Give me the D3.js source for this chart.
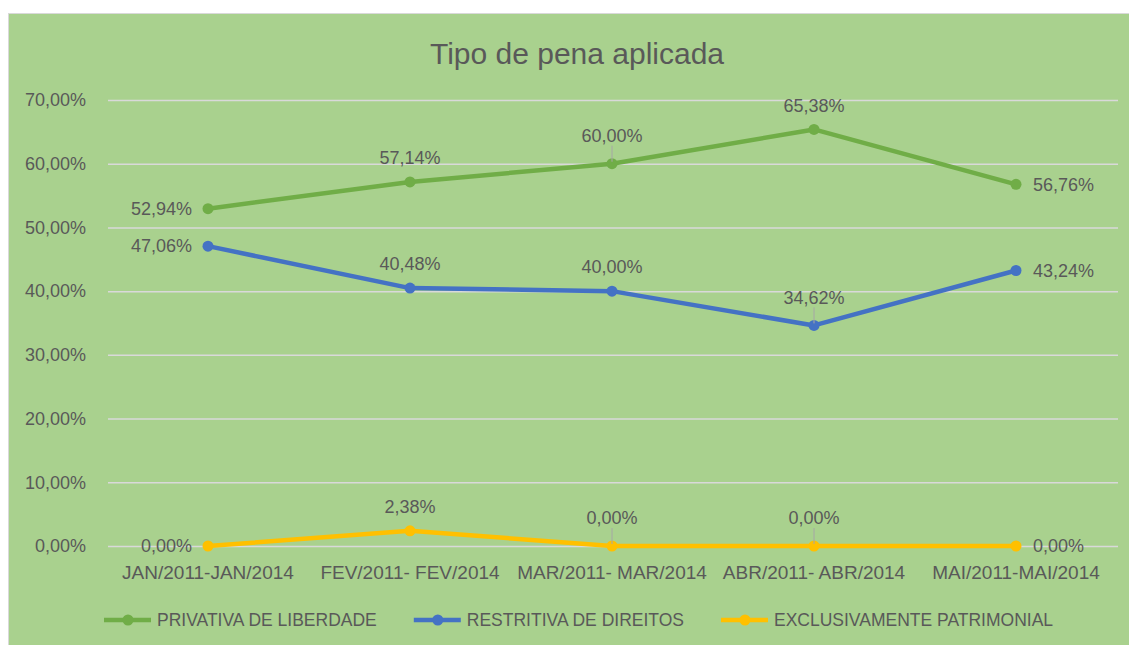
<!DOCTYPE html>
<html lang="pt">
<head>
<meta charset="utf-8">
<title>Tipo de pena aplicada</title>
<script src="https://cdnjs.cloudflare.com/ajax/libs/d3/7.8.5/d3.min.js"></script>
<style>
  body { margin: 0; background: #fff; }
  text { font-family: "Liberation Sans", Arial, sans-serif; fill: #595959; }
  .grid line { stroke: #d9d9d9; stroke-width: 1.5; }
  .grid .domain { display: none; }
</style>
</head>
<body>
<svg id="chart" width="1129" height="645"></svg>
<script>
// data
const categories = ["JAN/2011-JAN/2014", "FEV/2011- FEV/2014", "MAR/2011- MAR/2014", "ABR/2011- ABR/2014", "MAI/2011-MAI/2014"];
const seriesNames = ["PRIVATIVA DE LIBERDADE", "RESTRITIVA DE DIREITOS", "EXCLUSIVAMENTE PATRIMONIAL"];
const privativa = [0.5294, 0.5714, 0.6000, 0.6538, 0.5676];
const restritiva = [0.4706, 0.4048, 0.4000, 0.3462, 0.4324];
const patrimonial = [0.0000, 0.0238, 0.0000, 0.0000, 0.0000];
const yTicks = [0, 0.1, 0.2, 0.3, 0.4, 0.5, 0.6, 0.7];

// where each data label sits: l = left, t = top, T = top with leader line, r = right
const labelPlace = [
  ["l", "t", "T", "t", "r"],
  ["l", "t", "t", "T", "r"],
  ["l", "t", "T", "T", "r"]
];
const colors = ["#70ad47", "#4472c4", "#ffc000"];

const svg = d3.select("#chart");
const br = d3.formatLocale({decimal: ",", thousands: ".", grouping: [3], currency: ["R$", ""]});
const pct = br.format(".2%");

// background
svg.append("rect")
  .attr("x", 8.5).attr("y", 13.5)
  .attr("width", 1130).attr("height", 640)
  .attr("fill", "#a9d18e")
  .attr("stroke", "#d9d9d9");

svg.append("text")
  .attr("x", 577).attr("y", 64)
  .attr("text-anchor", "middle")
  .style("font-size", "30px")
  .text("Tipo de pena aplicada");

const x = d3.scalePoint().domain(categories).range([107, 1117]).padding(0.5);
const y = d3.scaleLinear().domain([0, 0.7]).range([546, 100]);

// gridlines + tick labels
const yAxis = svg.append("g")
  .attr("class", "grid")
  .attr("transform", "translate(108,0)")
  .call(d3.axisLeft(y).tickValues(yTicks).tickFormat(pct).tickSize(-1010).tickPadding(22));
yAxis.selectAll("text").style("font-size", "18px").attr("fill", "#595959");

// category labels
svg.append("g").selectAll("text")
  .data(categories)
  .join("text")
  .attr("x", d => x(d))
  .attr("y", 579)
  .attr("text-anchor", "middle")
  .style("font-size", "19px")
  .text(d => d);

const allSeries = [privativa, restritiva, patrimonial];
const line = d3.line().x((d, i) => x(categories[i])).y(d => y(d));

allSeries.forEach((vals, s) => {
  const g = svg.append("g");
  g.append("path")
    .datum(vals)
    .attr("d", line)
    .attr("fill", "none")
    .attr("stroke", colors[s])
    .attr("stroke-width", 4.5)
    .attr("stroke-linejoin", "round");
  g.selectAll("circle")
    .data(vals)
    .join("circle")
    .attr("cx", (d, i) => x(categories[i]))
    .attr("cy", d => y(d))
    .attr("r", 5.5)
    .attr("fill", colors[s]);
});

// data labels on top of all lines
allSeries.forEach((vals, s) => {
  const g = svg.append("g");
  vals.forEach((v, i) => {
    const px = x(categories[i]), py = y(v);
    const p = labelPlace[s][i];
    const t = g.append("text").style("font-size", "18px").text(pct(v));
    if (p === "l") {
      t.attr("x", px - 16).attr("y", py).attr("dy", "0.35em").attr("text-anchor", "end");
    } else if (p === "r") {
      t.attr("x", px + 17).attr("y", py).attr("dy", "0.35em").attr("text-anchor", "start");
    } else {
      const off = p === "T" ? 28 : 24;
      t.attr("x", px).attr("y", py - off).attr("dy", "0.35em").attr("text-anchor", "middle");
      if (p === "T") {
        g.append("line")
          .attr("x1", px).attr("x2", px)
          .attr("y1", py - off + 10).attr("y2", py - 2)
          .attr("stroke", "#a6a6a6").attr("stroke-width", 1);
      }
    }
  });
});

// legend
const legend = svg.append("g");
let lx = 104;
seriesNames.forEach((name, s) => {
  legend.append("line")
    .attr("x1", lx).attr("x2", lx + 47)
    .attr("y1", 620).attr("y2", 620)
    .attr("stroke", colors[s]).attr("stroke-width", 4.5);
  legend.append("circle")
    .attr("cx", lx + 24).attr("cy", 620).attr("r", 5.5)
    .attr("fill", colors[s]);
  const t = legend.append("text")
    .attr("x", lx + 53).attr("y", 626)
    .style("font-size", "17.5px")
    .text(name);
  lx += 53 + t.node().getComputedTextLength() + 37;
});
</script>
</body>
</html>
